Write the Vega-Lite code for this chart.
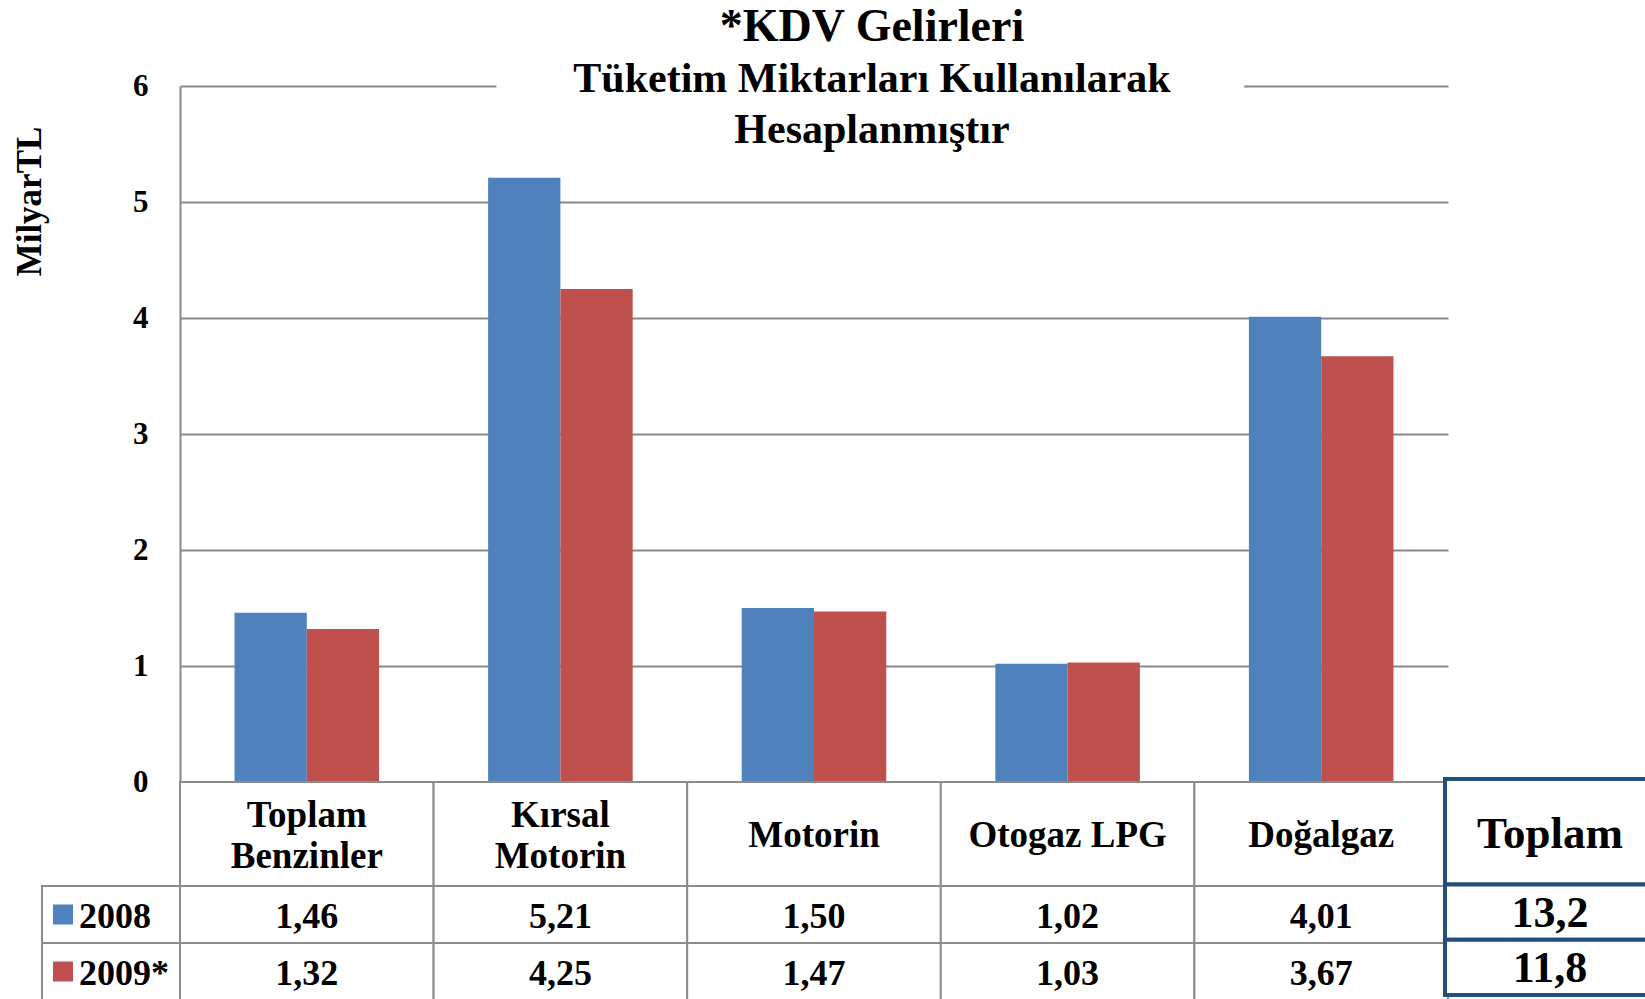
{
  "$schema": "https://vega.github.io/schema/vega-lite/v6.json",
  "width": 1268,
  "height": 696,
  "autosize": "none",
  "padding": {"left": 180, "top": 86, "right": 197, "bottom": 217},
  "background": "white",
  "config": {
    "view": {"stroke": null},
    "font": "Liberation Serif",
    "locale": {"number": {"decimal": ",", "thousands": ".", "grouping": [3], "currency": ["", " TL"]}}
  },
  "title": {
    "text": "*KDV Gelirleri",
    "subtitle": ["Tüketim Miktarları Kullanılarak", "Hesaplanmıştır"],
    "font": "Liberation Serif", "fontSize": 46, "fontWeight": "bold", "color": "black",
    "subtitleFont": "Liberation Serif", "subtitleFontSize": 42, "subtitleFontWeight": "bold", "subtitleColor": "black",
    "subtitlePadding": 8, "subtitleLineHeight": 51,
    "anchor": "middle", "dx": 58, "offset": -82
  },
  "datasets": {
    "bars": [
      {"cat": "Toplam Benzinler", "year": "2008", "value": 1.46},
      {"cat": "Toplam Benzinler", "year": "2009*", "value": 1.32},
      {"cat": "Kırsal Motorin", "year": "2008", "value": 5.21},
      {"cat": "Kırsal Motorin", "year": "2009*", "value": 4.25},
      {"cat": "Motorin", "year": "2008", "value": 1.50},
      {"cat": "Motorin", "year": "2009*", "value": 1.47},
      {"cat": "Otogaz LPG", "year": "2008", "value": 1.02},
      {"cat": "Otogaz LPG", "year": "2009*", "value": 1.03},
      {"cat": "Doğalgaz", "year": "2008", "value": 4.01},
      {"cat": "Doğalgaz", "year": "2009*", "value": 3.67}
    ],
    "header": [
      {"cat": "Toplam Benzinler", "label": ["Toplam", "Benzinler"]},
      {"cat": "Kırsal Motorin", "label": ["Kırsal", "Motorin"]},
      {"cat": "Motorin", "label": "Motorin"},
      {"cat": "Otogaz LPG", "label": "Otogaz LPG"},
      {"cat": "Doğalgaz", "label": "Doğalgaz"}
    ],
    "totals": [
      {"year": "2008", "total": 13.2},
      {"year": "2009*", "total": 11.8}
    ]
  },
  "layer": [
    {
      "layer": [
        {
          "data": {"name": "bars"},
          "mark": {"type": "bar"},
          "encoding": {
            "x": {"field": "cat", "type": "nominal", "sort": null,
                  "scale": {"domain": ["Toplam Benzinler", "Kırsal Motorin", "Motorin", "Otogaz LPG", "Doğalgaz"], "paddingInner": 0.43, "paddingOuter": 0.215},
                  "axis": null},
            "xOffset": {"field": "year", "type": "nominal", "scale": {"domain": ["2008", "2009*"]}},
            "y": {"field": "value", "type": "quantitative",
                  "scale": {"domain": [0, 6], "nice": false},
                  "axis": {"values": [0, 1, 2, 3, 4, 5, 6], "format": "d",
                           "title": "MilyarTL", "titleFont": "Liberation Serif", "titleFontSize": 35, "titleFontWeight": "bold", "titleColor": "black",
                           "titleAngle": -90, "titleX": -151, "titleY": 115, "titleAlign": "center", "titleBaseline": "middle",
                           "labelFont": "Liberation Serif", "labelFontSize": 31, "labelFontWeight": "bold", "labelColor": "black", "labelPadding": 32,
                           "ticks": false, "tickSize": 0, "domain": true, "domainColor": "#888888", "domainWidth": 2,
                           "grid": true, "gridColor": "#888888", "gridWidth": 2}},
            "color": {"field": "year", "type": "nominal", "scale": {"domain": ["2008", "2009*"], "range": ["#4F81BD", "#C0504D"]}, "legend": null}
          }
        },
        {
          "data": {"values": [{}]},
          "mark": {"type": "rect", "fill": "white", "xOffset": -64, "x2Offset": -77},
          "encoding": {
            "x": {"datum": "Kırsal Motorin", "type": "nominal"},
            "x2": {"datum": "Doğalgaz"},
            "y": {"datum": 5.95, "type": "quantitative"},
            "y2": {"datum": 6.05}
          }
        }
      ]
    },
    {
      "data": {"name": "header"},
      "encoding": {
        "x": {"field": "cat", "type": "nominal", "sort": null,
              "scale": {"domain": ["Toplam Benzinler", "Kırsal Motorin", "Motorin", "Otogaz LPG", "Doğalgaz"], "range": [0, 1268], "paddingInner": 0, "paddingOuter": 0},
              "axis": null},
        "y": {"datum": "h", "type": "nominal", "scale": {"domain": ["h"], "range": [696, 800], "paddingInner": 0, "paddingOuter": 0}, "axis": null}
      },
      "layer": [
        {"mark": {"type": "rect", "fill": "white", "stroke": "#8c8c8c", "strokeWidth": 2}},
        {"transform": [{"filter": "!isArray(datum.label)"}],
         "mark": {"type": "text", "font": "Liberation Serif", "fontSize": 37, "fontWeight": "bold", "baseline": "middle", "dy": 2, "color": "black"},
         "encoding": {"text": {"field": "label"}}},
        {"transform": [{"filter": "isArray(datum.label)"}],
         "mark": {"type": "text", "font": "Liberation Serif", "fontSize": 37, "fontWeight": "bold", "baseline": "middle", "lineHeight": 41, "dy": -18, "color": "black"},
         "encoding": {"text": {"field": "label"}}}
      ]
    },
    {
      "data": {"name": "bars"},
      "encoding": {
        "x": {"field": "cat", "type": "nominal", "sort": null,
              "scale": {"domain": ["Toplam Benzinler", "Kırsal Motorin", "Motorin", "Otogaz LPG", "Doğalgaz"], "range": [0, 1268], "paddingInner": 0, "paddingOuter": 0},
              "axis": null},
        "y": {"field": "year", "type": "nominal", "scale": {"domain": ["2008", "2009*"], "range": [800, 914], "paddingInner": 0, "paddingOuter": 0}, "axis": null}
      },
      "layer": [
        {"mark": {"type": "rect", "fill": "white", "stroke": "#8c8c8c", "strokeWidth": 2}},
        {"mark": {"type": "text", "font": "Liberation Serif", "fontSize": 36, "fontWeight": "bold", "baseline": "middle", "dy": 2, "color": "black"},
         "encoding": {"text": {"field": "value", "type": "quantitative", "format": ".2f"}}}
      ]
    },
    {
      "data": {"name": "totals"},
      "encoding": {
        "x": {"datum": "lbl", "type": "nominal", "scale": {"domain": ["lbl"], "range": [-138, 0], "paddingInner": 0, "paddingOuter": 0}, "axis": null},
        "y": {"field": "year", "type": "nominal", "scale": {"domain": ["2008", "2009*"], "range": [800, 914], "paddingInner": 0, "paddingOuter": 0}, "axis": null}
      },
      "layer": [
        {"mark": {"type": "rect", "fill": "white", "stroke": "#8c8c8c", "strokeWidth": 2}},
        {"mark": {"type": "point", "shape": "square", "filled": true, "size": 400, "opacity": 1, "xOffset": -48},
         "encoding": {"color": {"field": "year", "type": "nominal", "legend": null}}},
        {"mark": {"type": "text", "font": "Liberation Serif", "fontSize": 36, "fontWeight": "bold", "baseline": "middle", "align": "left", "dx": -32, "dy": 2, "color": "black"},
         "encoding": {"text": {"field": "year"}}}
      ]
    },
    {
      "layer": [
        {
          "data": {"values": [{"label": "Toplam"}]},
          "encoding": {
            "x": {"datum": "t", "type": "nominal", "scale": {"domain": ["t"], "range": [1265, 1475], "paddingInner": 0, "paddingOuter": 0}, "axis": null},
            "y": {"datum": "h", "type": "nominal", "scale": {"domain": ["h"], "range": [693, 798.5], "paddingInner": 0, "paddingOuter": 0}, "axis": null}
          },
          "layer": [
            {"mark": {"type": "rect", "fill": "white", "stroke": "#254E7E", "strokeWidth": 4}},
            {"mark": {"type": "text", "font": "Liberation Serif", "fontSize": 45, "fontWeight": "bold", "baseline": "middle", "dy": 2, "color": "black"},
             "encoding": {"text": {"field": "label"}}}
          ]
        },
        {
          "data": {"name": "totals"},
          "encoding": {
            "x": {"datum": "t", "type": "nominal", "scale": {"domain": ["t"], "range": [1265, 1475], "paddingInner": 0, "paddingOuter": 0}, "axis": null},
            "y": {"field": "year", "type": "nominal", "scale": {"domain": ["2008", "2009*"], "range": [798.5, 909], "paddingInner": 0, "paddingOuter": 0}, "axis": null}
          },
          "layer": [
            {"mark": {"type": "rect", "fill": "white", "stroke": "#254E7E", "strokeWidth": 4}},
            {"mark": {"type": "text", "font": "Liberation Serif", "fontSize": 44, "fontWeight": "bold", "baseline": "middle", "dy": 2, "color": "black"},
             "encoding": {"text": {"field": "total", "type": "quantitative", "format": ".1f"}}}
          ]
        }
      ],
      "resolve": {"scale": {"y": "independent"}}
    }
  ],
  "resolve": {"scale": {"x": "independent", "y": "independent"}}
}
